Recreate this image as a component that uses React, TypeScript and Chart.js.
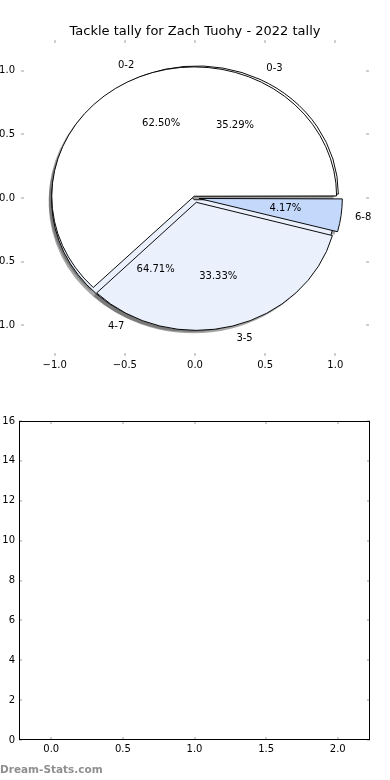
import { useEffect, useRef } from 'react';
import { Chart, registerables } from 'chart.js';

Chart.register(...registerables);

// ---------- data ----------
const TITLE = 'Tackle tally for Zach Tuohy - 2022 tally';
const PIE_A_LABELS = ['0-2', '3-5', '6-8'];
const PIE_A_VALUES = [15, 8, 1];
const PIE_B_LABELS = ['0-3', '4-7'];
const PIE_B_VALUES = [6, 11];
const PIE_TICKS = [-1, -0.5, 0, 0.5, 1];
const BOTTOM_X_TICKS = [0, 0.5, 1, 1.5, 2];
const BOTTOM_Y_TICKS = [0, 2, 4, 6, 8, 10, 12, 14, 16];
const WATERMARK = 'Dream-Stats.com';

// ---------- style ----------
const PIE_A_COLORS = ['#ffffff', '#eaf1fd', '#c4d8fc'];
const PIE_B_COLORS = ['#ffffff', '#eaf1fd'];
const PIE_A_EXPLODE = [0.03, 0.04, 0.05];
const PIE_B_EXPLODE = [0.04, 0.03];
const PIE_LIM = 1.24;
const BOTTOM_X_LIM = [-0.225, 2.225];
const BOTTOM_Y_LIM = [0, 16];
const FONT = '"DejaVu Sans", sans-serif';
const TICK_COLOR = '#c0c0c0';
const SHADOW_COLOR = 'rgba(77,77,77,0.5)';
const SHADOW_SHIFT = { x: -3, y: 3 };
const W = 390;
const H_TOP = 390;
const H_BOTTOM = 390;

type Wedge = { mid: number; frac: number; span: number; explode: number };

function wedges(values: number[], explode: number[]): Wedge[] {
  const total = values.reduce((a, b) => a + b, 0);
  let acc = 0;
  return values.map((v, i) => {
    const t1 = (acc / total) * 2 * Math.PI;
    acc += v;
    const t2 = (acc / total) * 2 * Math.PI;
    return { mid: (t1 + t2) / 2, frac: v / total, span: t2 - t1, explode: explode[i] };
  });
}

const fmt1 = (v: number | string) => {
  const n = Number(v);
  const s = Math.abs(n).toFixed(1);
  return n < 0 ? '\u2212' + s : s;
};

const tickMarks = {
  id: 'tickMarks',
  afterDraw(chart: any) {
    const { ctx, chartArea: a, scales } = chart;
    const len = 3;
    ctx.save();
    ctx.strokeStyle = TICK_COLOR;
    ctx.lineWidth = 1.5;
    ctx.beginPath();
    scales.x.ticks.forEach((t: any) => {
      const p = Math.round(scales.x.getPixelForValue(t.value));
      ctx.moveTo(p, a.top);
      ctx.lineTo(p, a.top + len);
      ctx.moveTo(p, a.bottom);
      ctx.lineTo(p, a.bottom - len);
    });
    scales.y.ticks.forEach((t: any) => {
      const p = Math.round(scales.y.getPixelForValue(t.value));
      ctx.moveTo(a.left, p);
      ctx.lineTo(a.left + len, p);
      ctx.moveTo(a.right, p);
      ctx.lineTo(a.right - len, p);
    });
    ctx.stroke();
    ctx.restore();
  },
};

const frame = {
  id: 'frame',
  afterDraw(chart: any) {
    const { ctx, chartArea: a } = chart;
    ctx.save();
    ctx.strokeStyle = '#000';
    ctx.lineWidth = 1;
    const l = Math.round(a.left) + 0.5;
    const t = Math.round(a.top) + 0.5;
    const r = Math.round(a.right) - 0.5;
    const b = Math.round(a.bottom) - 0.5;
    ctx.strokeRect(l, t, r - l, b - t);
    ctx.restore();
  },
};

const pieLabels = {
  id: 'pieLabels',
  afterDatasetsDraw(chart: any) {
    const { ctx, scales } = chart;
    const xs = scales.x;
    const ys = scales.y;
    ctx.save();
    ctx.font = `10px ${FONT}`;
    ctx.fillStyle = '#000';
    ctx.textBaseline = 'middle';
    const pies: [string[], number[], number[]][] = [
      [PIE_A_LABELS, PIE_A_VALUES, PIE_A_EXPLODE],
      [PIE_B_LABELS, PIE_B_VALUES, PIE_B_EXPLODE],
    ];
    pies.forEach(([labels, values, explode]) => {
      wedges(values, explode).forEach((w, i) => {
        const c = Math.cos(w.mid);
        const s = Math.sin(w.mid);
        const lx = (w.explode + 1.1) * c;
        const ly = (w.explode + 1.1) * s;
        ctx.textAlign = lx > 0 ? 'left' : 'right';
        ctx.fillText(labels[i], xs.getPixelForValue(lx), ys.getPixelForValue(ly));
        const px = (w.explode + 0.6) * c;
        const py = (w.explode + 0.6) * s;
        ctx.textAlign = 'center';
        ctx.fillText((w.frac * 100).toFixed(2) + '%', xs.getPixelForValue(px), ys.getPixelForValue(py));
      });
    });
    ctx.restore();
  },
};

const squash = {
  id: 'squash',
  beforeDatasetsDraw(chart: any, _args: any, opts: any) {
    const { ctx, chartArea: a } = chart;
    const cx = (a.left + a.right) / 2;
    const cy = (a.top + a.bottom) / 2;
    ctx.save();
    ctx.translate(cx, cy);
    ctx.scale(1, opts.ratio || 1);
    ctx.translate(-cx, -cy);
  },
  afterDatasetsDraw(chart: any) {
    chart.ctx.restore();
  },
};

type Geom = { r: number; ratio: number };
type Pad = { left: number; right: number; top: number; bottom: number };

function makePie(
  canvas: HTMLCanvasElement,
  labels: string[],
  values: number[],
  colors: string[],
  explode: number[],
  geom: Geom,
  pad: Pad,
  shadow: boolean
) {
  const ws = wedges(values, explode);
  const order = values.map((_, i) => values.length - 1 - i);
  const offsets = order.map((i) => {
    const w = ws[i];
    const fix = 1 - Math.sin(Math.min(Math.PI, w.span));
    return (w.explode * geom.r * 4) / (1 + fix);
  });
  return new Chart(canvas, {
    type: 'pie',
    data: {
      labels: order.map((i) => labels[i]),
      datasets: [
        {
          data: order.map((i) => values[i]),
          backgroundColor: shadow ? SHADOW_COLOR : order.map((i) => colors[i]),
          borderColor: '#000',
          borderWidth: shadow ? 0 : 1,
          borderJoinStyle: 'miter',
          offset: offsets,
          clip: false,
        } as any,
      ],
    },
    options: {
      animation: false,
      responsive: false,
      devicePixelRatio: 1,
      events: [],
      rotation: 90,
      radius: geom.r,
      layout: { padding: pad },
      plugins: {
        legend: { display: false },
        tooltip: { enabled: false },
        squash: { ratio: geom.ratio },
      } as any,
    } as any,
    plugins: [squash],
  });
}

const canvasStyle = (top: number, h: number): React.CSSProperties => ({
  position: 'absolute',
  left: 0,
  top,
  width: W,
  height: h,
  display: 'block',
});

export default function App() {
  const shadowB = useRef<HTMLCanvasElement>(null);
  const shadowA = useRef<HTMLCanvasElement>(null);
  const pieB = useRef<HTMLCanvasElement>(null);
  const pieA = useRef<HTMLCanvasElement>(null);
  const axesRef = useRef<HTMLCanvasElement>(null);
  const bottomRef = useRef<HTMLCanvasElement>(null);

  useEffect(() => {
    const charts: Chart[] = [];
    const tickFont = { family: FONT, size: 10 };

    const axes = new Chart(axesRef.current!, {
      type: 'scatter',
      data: { datasets: [{ data: [] }] },
      options: {
        animation: false,
        responsive: false,
        devicePixelRatio: 1,
        events: [],
        layout: { padding: 0 },
        plugins: {
          legend: { display: false },
          tooltip: { enabled: false },
          title: {
            display: true,
            text: TITLE,
            color: '#000',
            font: { family: FONT, size: 13, weight: 'normal', lineHeight: 1.2 },
            padding: { top: 23.4, bottom: 1.0 },
          },
        },
        scales: {
          x: {
            type: 'linear',
            min: -PIE_LIM,
            max: PIE_LIM,
            grid: { display: false, drawTicks: false },
            border: { display: false },
            afterBuildTicks: (s: any) => {
              s.ticks = PIE_TICKS.map((value) => ({ value }));
            },
            afterFit: (s: any) => {
              s.height = 34;
            },
            ticks: { padding: 3, color: '#000', font: tickFont, callback: fmt1, maxRotation: 0, autoSkip: false },
          },
          y: {
            type: 'linear',
            min: -PIE_LIM,
            max: PIE_LIM,
            grid: { display: false, drawTicks: false },
            border: { display: false },
            afterBuildTicks: (s: any) => {
              s.ticks = PIE_TICKS.map((value) => ({ value }));
            },
            afterFit: (s: any) => {
              s.width = 21;
            },
            ticks: { padding: 6, color: '#000', font: tickFont, callback: fmt1, autoSkip: false },
          },
          yRight: {
            type: 'linear',
            position: 'right',
            min: -PIE_LIM,
            max: PIE_LIM,
            display: true,
            grid: { display: false, drawTicks: false },
            border: { display: false },
            ticks: { display: false },
            afterFit: (s: any) => {
              s.width = 21;
            },
          },
        },
      } as any,
      plugins: [tickMarks, pieLabels],
    });

    const xs = axes.scales.x;
    const ys = axes.scales.y;
    const r = xs.getPixelForValue(1) - xs.getPixelForValue(0);
    const ratio = (ys.getPixelForValue(0) - ys.getPixelForValue(1)) / r;
    const ca = axes.chartArea;
    const pad: Pad = { left: ca.left, right: W - ca.right, top: ca.top, bottom: H_TOP - ca.bottom };
    const shPad: Pad = {
      left: pad.left + SHADOW_SHIFT.x,
      right: pad.right - SHADOW_SHIFT.x,
      top: pad.top + SHADOW_SHIFT.y,
      bottom: pad.bottom - SHADOW_SHIFT.y,
    };
    const geom = { r, ratio };

    charts.push(makePie(shadowB.current!, PIE_B_LABELS, PIE_B_VALUES, PIE_B_COLORS, PIE_B_EXPLODE, geom, shPad, true));
    charts.push(makePie(shadowA.current!, PIE_A_LABELS, PIE_A_VALUES, PIE_A_COLORS, PIE_A_EXPLODE, geom, shPad, true));
    charts.push(makePie(pieB.current!, PIE_B_LABELS, PIE_B_VALUES, PIE_B_COLORS, PIE_B_EXPLODE, geom, pad, false));
    charts.push(makePie(pieA.current!, PIE_A_LABELS, PIE_A_VALUES, PIE_A_COLORS, PIE_A_EXPLODE, geom, pad, false));
    charts.push(axes);

    const bottom = new Chart(bottomRef.current!, {
      type: 'scatter',
      data: { datasets: [{ data: [] }] },
      options: {
        animation: false,
        responsive: false,
        devicePixelRatio: 1,
        events: [],
        layout: { padding: { top: 31, left: 0, right: 20, bottom: 0 } },
        plugins: { legend: { display: false }, tooltip: { enabled: false } },
        scales: {
          x: {
            type: 'linear',
            min: BOTTOM_X_LIM[0],
            max: BOTTOM_X_LIM[1],
            grid: { display: false, drawTicks: false },
            border: { display: false },
            afterBuildTicks: (s: any) => {
              s.ticks = BOTTOM_X_TICKS.map((value) => ({ value }));
            },
            afterFit: (s: any) => {
              s.height = 40;
            },
            ticks: { padding: 3, color: '#000', font: tickFont, callback: fmt1, maxRotation: 0, autoSkip: false },
          },
          y: {
            type: 'linear',
            min: BOTTOM_Y_LIM[0],
            max: BOTTOM_Y_LIM[1],
            grid: { display: false, drawTicks: false },
            border: { display: false },
            afterBuildTicks: (s: any) => {
              s.ticks = BOTTOM_Y_TICKS.map((value) => ({ value }));
            },
            afterFit: (s: any) => {
              s.width = 19;
            },
            ticks: { padding: 4, color: '#000', font: tickFont, callback: (v: any) => String(v), autoSkip: false },
          },
        },
      } as any,
      plugins: [tickMarks, frame],
    });
    charts.push(bottom);

    return () => {
      charts.forEach((c) => c.destroy());
    };
  }, []);

  return (
    <div style={{ position: 'absolute', left: 0, top: 0, width: W, height: H_TOP + H_BOTTOM, background: '#fff', overflow: 'hidden' }}>
      <canvas ref={shadowB} width={W} height={H_TOP} style={canvasStyle(0, H_TOP)} />
      <canvas ref={shadowA} width={W} height={H_TOP} style={canvasStyle(0, H_TOP)} />
      <canvas ref={pieB} width={W} height={H_TOP} style={canvasStyle(0, H_TOP)} />
      <canvas ref={pieA} width={W} height={H_TOP} style={canvasStyle(0, H_TOP)} />
      <canvas ref={axesRef} width={W} height={H_TOP} style={canvasStyle(0, H_TOP)} />
      <canvas ref={bottomRef} width={W} height={H_BOTTOM} style={canvasStyle(H_TOP, H_BOTTOM)} />
      <div
        style={{
          position: 'absolute',
          left: 0,
          top: 763,
          font: `bold 10.5px ${FONT}`,
          lineHeight: '12px',
          color: '#8f8f8f',
          whiteSpace: 'nowrap',
        }}
      >
        {WATERMARK}
      </div>
    </div>
  );
}
